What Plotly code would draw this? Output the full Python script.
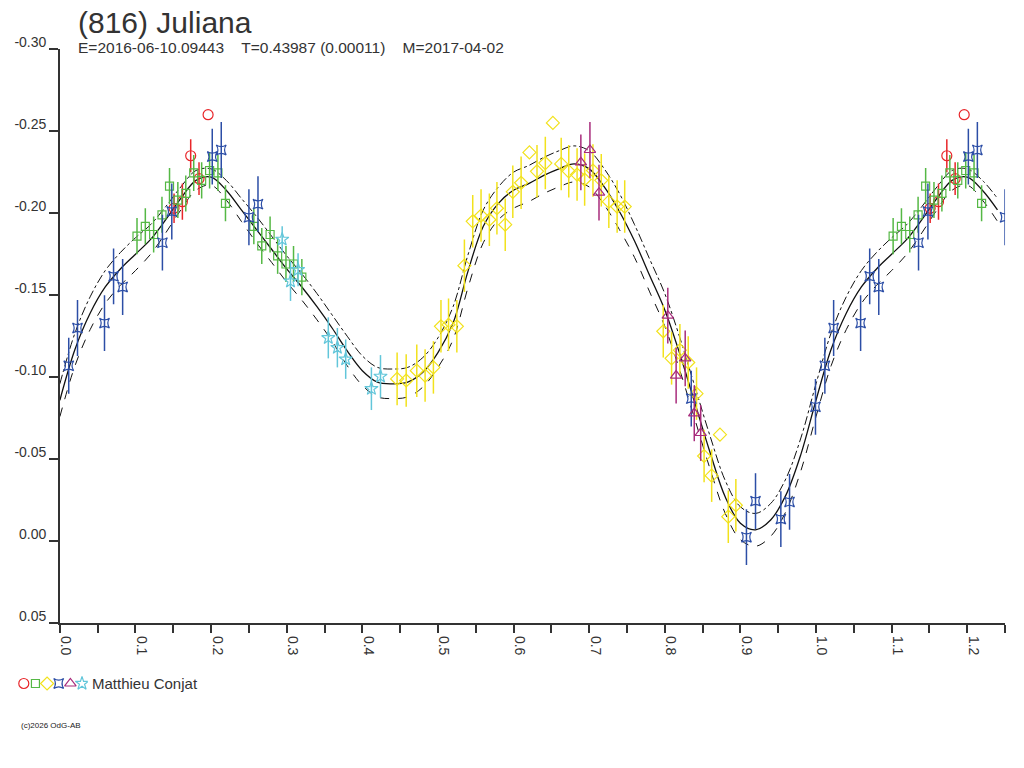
import plotly.graph_objects as go

# ---- lightcurve data (phase, relative magnitude, 1-sigma error) ----
red_phase = [0.151, 0.162, 0.173, 0.184, 0.196]
red_mag = [-0.203, -0.207, -0.235, -0.221, -0.260]
red_err = [0.009, 0.011, 0.010, 0.010, 0.0]

green_phase = [0.102, 0.113, 0.124, 0.135, 0.145, 0.156, 0.1665, 0.177, 0.1875, 0.198,
               0.209, 0.219, 0.2565, 0.267, 0.278, 0.288, 0.299, 0.309, 0.320]
green_mag = [-0.186, -0.192, -0.187, -0.199, -0.2165, -0.208, -0.212, -0.2245, -0.220, -0.226,
             -0.2245, -0.206, -0.192, -0.180, -0.187, -0.174, -0.169, -0.169, -0.161]
green_err = [0.011] * 19

yellow_phase = [0.446, 0.458, 0.472, 0.483, 0.494, 0.504, 0.514, 0.525, 0.535, 0.546,
                0.557, 0.568, 0.578, 0.589, 0.599, 0.610, 0.621, 0.631, 0.642, 0.652,
                0.663, 0.673, 0.684, 0.694, 0.705, 0.716, 0.726, 0.737, 0.747, 0.798,
                0.809, 0.820, 0.831, 0.842, 0.852, 0.862, 0.873, 0.884, 0.894]
yellow_mag = [-0.099, -0.098, -0.104, -0.101, -0.106, -0.131, -0.132, -0.131, -0.168, -0.195,
              -0.1985, -0.196, -0.203, -0.193, -0.213, -0.2185, -0.237, -0.2255, -0.2305, -0.255,
              -0.230, -0.2255, -0.2235, -0.2205, -0.226, -0.220, -0.207, -0.204, -0.204, -0.128,
              -0.1115, -0.1165, -0.109, -0.090, -0.052, -0.040, -0.065, -0.015, -0.022]
yellow_err = [0.016, 0.016, 0.016, 0.016, 0.016, 0.016, 0.016, 0.016, 0.016, 0.016,
              0.016, 0.016, 0.016, 0.016, 0.016, 0.016, 0.0, 0.016, 0.016, 0.0,
              0.016, 0.016, 0.016, 0.016, 0.016, 0.016, 0.016, 0.016, 0.016, 0.016,
              0.016, 0.016, 0.016, 0.016, 0.016, 0.016, 0.0, 0.016, 0.016]

blue_phase = [0.0117, 0.0233, 0.059, 0.071, 0.083, 0.1356, 0.148, 0.2015, 0.2134, 0.250,
              0.262, 0.835, 0.908, 0.920, 0.9535, 0.965, 0.9993]
blue_mag = [-0.107, -0.130, -0.133, -0.1615, -0.155, -0.182, -0.201, -0.2345, -0.2385, -0.1975,
            -0.2055, -0.087, -0.0025, -0.0245, -0.0135, -0.024, -0.082]
blue_err = [0.017] * 17

purple_phase = [0.689, 0.701, 0.713, 0.804, 0.815, 0.827, 0.839, 0.8475]
purple_mag = [-0.231, -0.2385, -0.2125, -0.1375, -0.101, -0.1115, -0.078, -0.066]
purple_err = [0.017] * 8

cyan_phase = [0.294, 0.305, 0.315, 0.355, 0.367, 0.378, 0.412, 0.424]
cyan_mag = [-0.184, -0.1585, -0.1655, -0.124, -0.118, -0.111, -0.093, -0.1005]
cyan_err = [0.008, 0.012, 0.010, 0.0125, 0.012, 0.012, 0.013, 0.013]

# ---- Fourier fit, with its +/- envelope ----
fit_phase = [0.00, 0.02, 0.04, 0.06, 0.08, 0.10, 0.12, 0.14, 0.16, 0.18,
             0.20, 0.22, 0.24, 0.26, 0.28, 0.30, 0.32, 0.34, 0.36, 0.38,
             0.40, 0.42, 0.44, 0.46, 0.48, 0.50, 0.52, 0.54, 0.56, 0.58,
             0.60, 0.62, 0.64, 0.66, 0.68, 0.70, 0.72, 0.74, 0.76, 0.78,
             0.80, 0.82, 0.84, 0.86, 0.88, 0.90, 0.92, 0.94, 0.96, 0.98, 1.00]
fit_mid = [-0.086, -0.117, -0.139, -0.155, -0.166, -0.175, -0.184, -0.196, -0.209, -0.220,
           -0.222, -0.214, -0.202, -0.190, -0.178, -0.166, -0.155, -0.143, -0.130, -0.116,
           -0.104, -0.097, -0.096, -0.097, -0.103, -0.115, -0.133, -0.165, -0.192, -0.206,
           -0.214, -0.218, -0.223, -0.227, -0.230, -0.227, -0.216, -0.201, -0.183, -0.162,
           -0.141, -0.114, -0.084, -0.054, -0.027, -0.011, -0.007, -0.013, -0.028, -0.053, -0.086]
fit_upper = [-0.096, -0.127, -0.149, -0.165, -0.176, -0.185, -0.193, -0.204, -0.216, -0.226,
             -0.227, -0.220, -0.209, -0.198, -0.186, -0.174, -0.163, -0.151, -0.138, -0.125,
             -0.113, -0.106, -0.105, -0.106, -0.112, -0.124, -0.143, -0.175, -0.202, -0.216,
             -0.225, -0.229, -0.234, -0.238, -0.241, -0.238, -0.227, -0.212, -0.193, -0.172,
             -0.151, -0.124, -0.094, -0.064, -0.037, -0.021, -0.017, -0.023, -0.038, -0.063, -0.096]
fit_lower = [-0.076, -0.107, -0.129, -0.145, -0.156, -0.165, -0.175, -0.188, -0.202, -0.214,
             -0.217, -0.208, -0.195, -0.182, -0.170, -0.158, -0.147, -0.135, -0.122, -0.107,
             -0.095, -0.088, -0.087, -0.088, -0.094, -0.106, -0.123, -0.155, -0.182, -0.196,
             -0.203, -0.207, -0.212, -0.216, -0.219, -0.216, -0.205, -0.190, -0.173, -0.152,
             -0.131, -0.104, -0.074, -0.044, -0.017, -0.001, 0.003, -0.003, -0.018, -0.043, -0.076]

y_tick_vals = [-0.30, -0.25, -0.20, -0.15, -0.10, -0.05, 0.00, 0.05]
y_tick_text = ["-0.30", "-0.25", "-0.20", "-0.15", "-0.10", "-0.05", "0.00", "0.05"]
x_tick_vals = [0.0, 0.1, 0.2, 0.3, 0.4, 0.5, 0.6, 0.7, 0.8, 0.9, 1.0, 1.1, 1.2]
x_tick_text = ["0.0", "0.1", "0.2", "0.3", "0.4", "0.5", "0.6", "0.7", "0.8", "0.9", "1.0", "1.1", "1.2"]

title = "(816) Juliana"
subtitle = "E=2016-06-10.09443    T=0.43987 (0.00011)    M=2017-04-02"
observer = "Matthieu Conjat"
credit = "(c)2026 OdG-AB"

WRAP = 0.26  # phases below this are repeated one cycle later (x axis runs to 1.25)

W, H = 1024, 768
PX0, PX1 = 58, 1005      # plot area left/right (screen px)
PY0, PY1 = 50, 623       # plot area top/bottom (screen px)
# the captured page ends up ~16 px lower and slightly squeezed vertically;
# screen rows are mapped back through that before use
SHOT_TOP, SHOT_SCALE = 16, 0.977
AX = "#333333"
FONT = "Liberation Sans, Arial, sans-serif"


def py(y_px):
    """screen pixel row -> paper fraction"""
    return 1 - ((y_px - SHOT_TOP) / SHOT_SCALE) / H


def wrap(ph, vals):
    ext_x = list(ph) + [p + 1 for p in ph if 0 < p < WRAP]
    ext_y = list(vals) + [v for p, v in zip(ph, vals) if 0 < p < WRAP]
    return ext_x, ext_y


def wrap_pts(ph, mag, err):
    x = list(ph) + [p + 1 for p in ph if p < WRAP]
    y = list(mag) + [m for p, m in zip(ph, mag) if p < WRAP]
    e = list(err) + [s for p, s in zip(ph, err) if p < WRAP]
    return x, y, e


fig = go.Figure()

# fit curves (behind the points)
for vals, dash, width in [(fit_upper, "dashdot", 1.0), (fit_lower, "dash", 1.0), (fit_mid, "solid", 1.3)]:
    fx, fy = wrap(fit_phase, vals)
    fig.add_trace(go.Scatter(
        x=fx, y=fy, mode="lines", line=dict(color="#111111", width=width, dash=dash, shape="spline"),
        hoverinfo="skip", showlegend=False,
    ))

sessions = [
    (red_phase, red_mag, red_err, "#E8262A", "circle-open", 10),
    (green_phase, green_mag, green_err, "#55B845", "square-open", 8),
    (yellow_phase, yellow_mag, yellow_err, "#F2E21C", "diamond-open", 10),
    (blue_phase, blue_mag, blue_err, "#2C4EA6", "star-square-open", 9),
    (purple_phase, purple_mag, purple_err, "#A82C7C", "triangle-up-open", 10),
    (cyan_phase, cyan_mag, cyan_err, "#62C6DA", "star-open", 10),
]

for ph, mag, err, color, symbol, size in sessions:
    x, y, e = wrap_pts(ph, mag, err)
    fig.add_trace(go.Scatter(
        x=x, y=y, mode="markers",
        marker=dict(symbol=symbol, size=size, color=color, line=dict(color=color, width=1.2)),
        error_y=dict(type="data", array=e, visible=True, color=color, thickness=1.5, width=0),
        showlegend=False,
        hovertemplate="phase %{x:.3f}<br>mag %{y:.3f}<extra></extra>",
    ))

# legend key row (own little axis under the plot)
for i, (ph, mag, err, color, symbol, size) in enumerate(sessions):
    fig.add_trace(go.Scatter(
        x=[i], y=[0], xaxis="x2", yaxis="y2", mode="markers",
        marker=dict(symbol=symbol, size=size, color=color, line=dict(color=color, width=1.2)),
        hoverinfo="skip", showlegend=False,
    ))

fig.update_layout(
    width=W, height=H,
    margin=dict(l=0, r=0, t=0, b=0),
    paper_bgcolor="white", plot_bgcolor="white",
    font=dict(family=FONT, color=AX, size=14),
    showlegend=False,
    xaxis=dict(
        domain=[PX0 / W, PX1 / W], range=[0, 1.25], anchor="y",
        showgrid=False, zeroline=False, showline=True, linecolor=AX, linewidth=1.5,
        tickmode="array", tickvals=x_tick_vals, ticktext=x_tick_text,
        ticks="outside", ticklen=8, tickwidth=1.5, tickcolor=AX, tickangle=90,
        ticklabelshift=6,
        minor=dict(dtick=0.05, tick0=0, ticks="outside", ticklen=8, tickwidth=1.5, tickcolor=AX),
        tickfont=dict(size=14, color=AX),
    ),
    yaxis=dict(
        domain=[py(PY1), py(PY0)], range=[0.05, -0.30], anchor="x",
        showgrid=False, zeroline=False, showline=True, linecolor=AX, linewidth=1.5,
        tickmode="array", tickvals=y_tick_vals, ticktext=y_tick_text,
        ticks="outside", ticklen=9, tickwidth=1.5, tickcolor=AX,
        ticklabelshift=7,
        tickfont=dict(size=14, color=AX),
    ),
    xaxis2=dict(domain=[16 / W, 86 / W], range=[-0.5, 5.5], anchor="y2", visible=False),
    yaxis2=dict(domain=[py(691), py(675)], range=[-1, 1], anchor="x2", visible=False),
    annotations=[
        dict(text=title, x=74 / W, y=py(23), xref="paper", yref="paper",
             xanchor="left", yanchor="middle", showarrow=False,
             font=dict(size=30, color=AX, family=FONT)),
        dict(text=subtitle.replace(" ", "\u00a0"), x=74 / W, y=py(48), xref="paper", yref="paper",
             xanchor="left", yanchor="middle", showarrow=False,
             font=dict(size=15.5, color=AX, family=FONT)),
        dict(text=observer, x=88 / W, y=py(683), xref="paper", yref="paper",
             xanchor="left", yanchor="middle", showarrow=False,
             font=dict(size=15, color=AX, family=FONT)),
        dict(text=credit, x=17 / W, y=py(725), xref="paper", yref="paper",
             xanchor="left", yanchor="middle", showarrow=False,
             font=dict(size=8, color="#222222", family=FONT)),
    ],
)

pin = "document.body.style.margin='0';"
fig.write_html("out.html", config={"responsive": False, "displayModeBar": False}, post_script=pin)
